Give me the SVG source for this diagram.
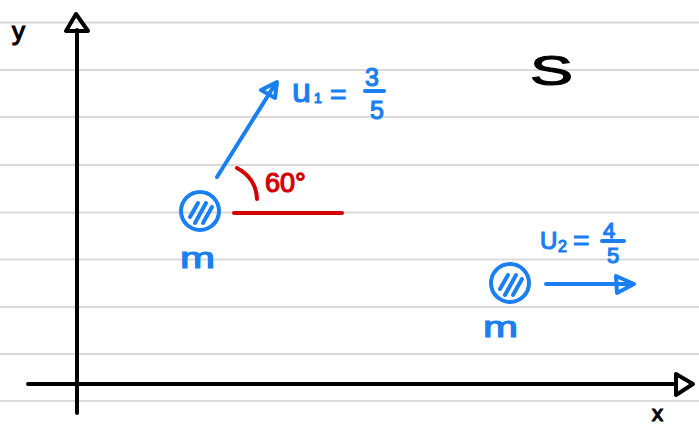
<svg xmlns="http://www.w3.org/2000/svg" width="699" height="425" viewBox="0 0 699 425">
<style>
.rule{stroke:#d9d9d9;stroke-width:2}
.k{stroke:#000;stroke-width:4;fill:none;stroke-linecap:round;stroke-linejoin:round}
.b{stroke:#1a7ff0;stroke-width:4;fill:none;stroke-linecap:round;stroke-linejoin:round}
.r{stroke:#d40000;stroke-width:4;fill:none;stroke-linecap:round}
.bt{fill:#1a7ff0;stroke:#1a7ff0;stroke-width:1.2;font-family:"Liberation Sans",Arial,sans-serif}
.rt{fill:#d40000;stroke:#d40000;stroke-width:1.2;font-family:"Liberation Sans",Arial,sans-serif}
.kt{fill:#000;stroke:#000;stroke-width:1.2;font-family:"Liberation Sans",Arial,sans-serif}
</style>
<rect width="699" height="425" fill="#fff"/>
<g id="rules">
<line class="rule" x1="0" y1="22.5" x2="699" y2="22.5"/>
<line class="rule" x1="0" y1="70" x2="699" y2="70"/>
<line class="rule" x1="0" y1="117" x2="699" y2="117"/>
<line class="rule" x1="0" y1="165" x2="699" y2="165"/>
<line class="rule" x1="0" y1="212.5" x2="699" y2="212.5"/>
<line class="rule" x1="0" y1="259.5" x2="699" y2="259.5"/>
<line class="rule" x1="0" y1="307" x2="699" y2="307"/>
<line class="rule" x1="0" y1="354" x2="699" y2="354"/>
<line class="rule" x1="0" y1="401" x2="699" y2="401"/>
</g>
<g id="axes">
<line class="k" x1="77" y1="30" x2="77" y2="413"/>
<polygon class="k" points="76,14 66,31 88,31"/>
<line class="k" x1="28" y1="384" x2="676" y2="384"/>
<polygon class="k" points="693,384 676,374 676,395"/>
<text class="kt" x="12" y="40" font-size="26">y</text>
<text class="kt" x="652" y="421" font-size="22">x</text>
<text class="kt" x="530" y="85" font-size="42" textLength="43" lengthAdjust="spacingAndGlyphs">S</text>
</g>
<g id="mass1">
<circle class="b" cx="200" cy="211" r="19"/>
<line class="b" x1="190" y1="217" x2="198" y2="203" stroke-width="3"/>
<line class="b" x1="195" y1="223" x2="206" y2="203" stroke-width="3"/>
<line class="b" x1="203" y1="223" x2="212" y2="207" stroke-width="3"/>
<text class="bt" x="180" y="268" font-size="30" textLength="35" lengthAdjust="spacingAndGlyphs">m</text>
</g>
<g id="mass2">
<circle class="b" cx="510" cy="283" r="19"/>
<line class="b" x1="500" y1="289" x2="508" y2="275" stroke-width="3"/>
<line class="b" x1="505" y1="295" x2="516" y2="275" stroke-width="3"/>
<line class="b" x1="513" y1="295" x2="522" y2="279" stroke-width="3"/>
<text class="bt" x="483" y="337" font-size="30" textLength="35" lengthAdjust="spacingAndGlyphs">m</text>
</g>
<g id="connectors">
<line class="b" x1="217" y1="177" x2="274" y2="86"/>
<polygon class="b" points="277,82 261,90 275,98"/>
<line class="b" x1="546" y1="284" x2="632" y2="284"/>
<polygon class="b" points="634,284 616,276 617,293"/>
<line class="r" x1="234" y1="213" x2="342" y2="213"/>
<path class="r" d="M237,168 Q256,178 257,199"/>
</g>
<g id="labels">
<text class="bt" x="292" y="102" font-size="34">u</text>
<text class="bt" x="314" y="103" font-size="14">1</text>
<text class="bt" x="330" y="104" font-size="28">=</text>
<text class="bt" x="365" y="86" font-size="25">3</text>
<line class="b" x1="365" y1="91" x2="384" y2="91" stroke-width="3"/>
<text class="bt" x="370" y="119" font-size="25">5</text>
<text class="rt" x="265" y="192" font-size="27">60°</text>
<text class="bt" x="540" y="249" font-size="24">U</text>
<text class="bt" x="558" y="252" font-size="16">2</text>
<text class="bt" x="573" y="250" font-size="28">=</text>
<text class="bt" x="603" y="238" font-size="22">4</text>
<line class="b" x1="602" y1="241" x2="624" y2="241" stroke-width="3"/>
<text class="bt" x="607" y="263" font-size="22">5</text>
</g>
</svg>
